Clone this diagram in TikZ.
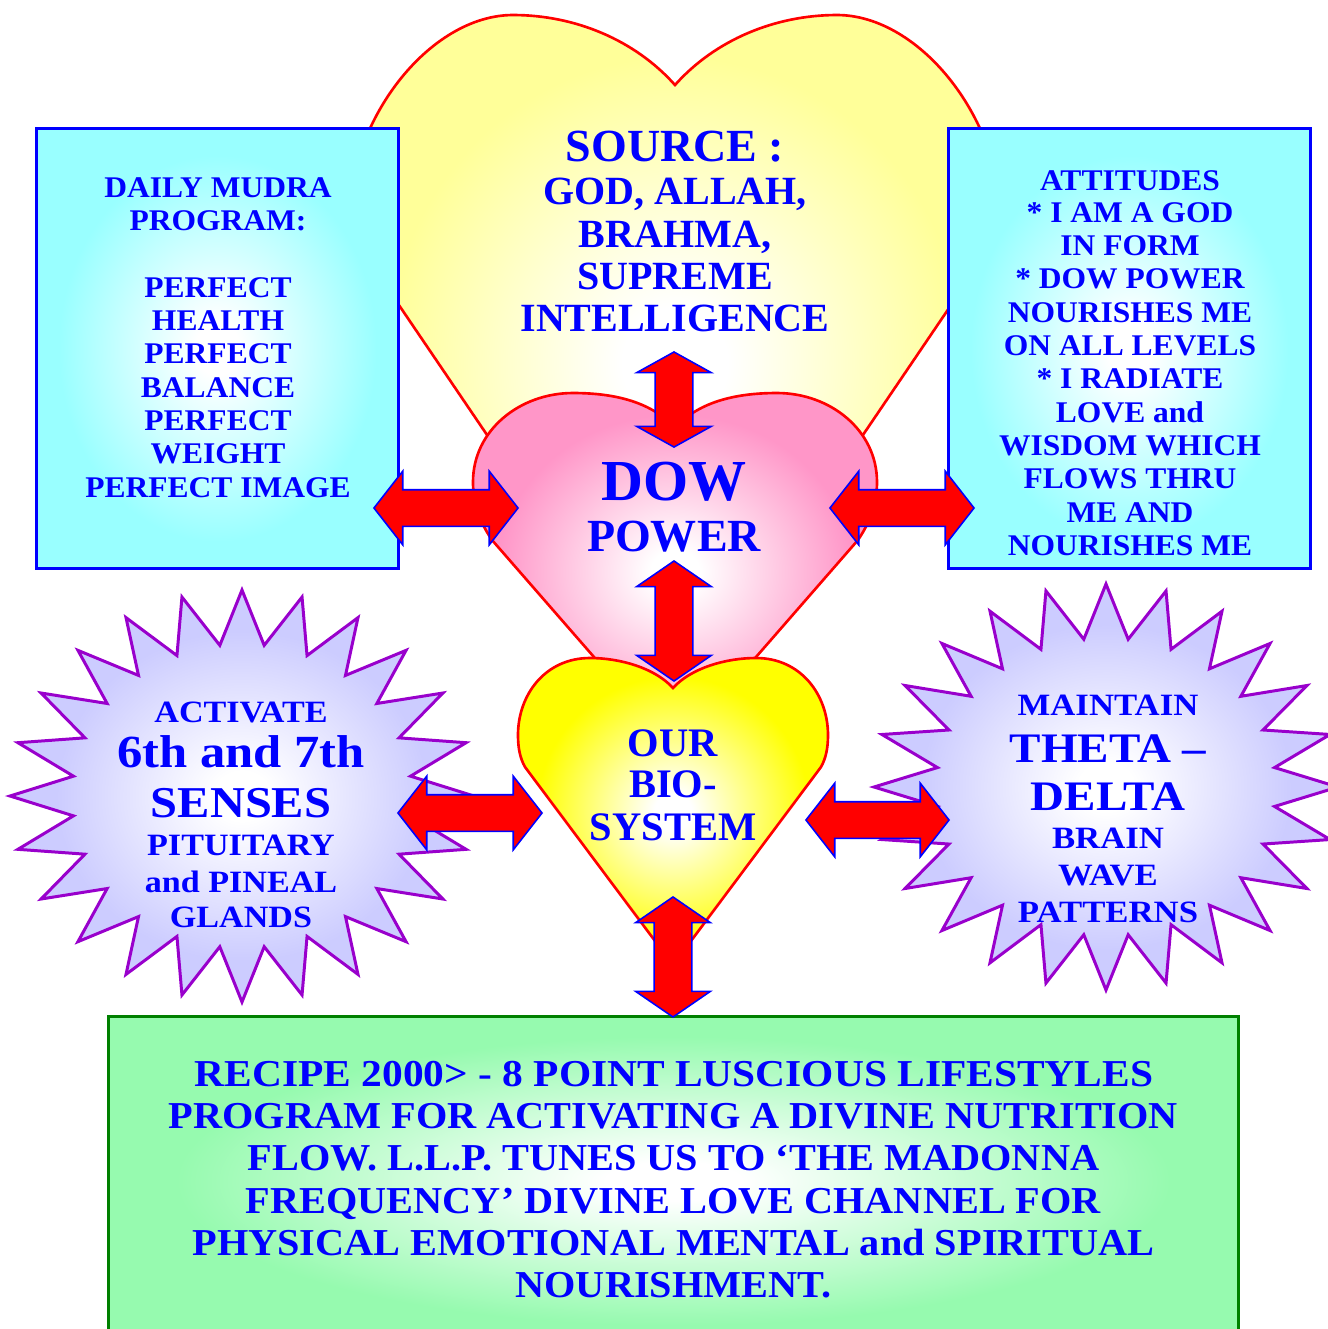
\documentclass[tikz,border=0pt]{standalone}
\usepackage{fontspec}
\setmainfont{Liberation Serif}
\newfontfamily\TBold{Liberation Serif Bold}
\newfontfamily\TBoldA{Liberation Serif Bold}[FakeStretch=1.05]
\newfontfamily\TBoldB{Liberation Serif Bold}[FakeStretch=1.10]
\newfontfamily\TBoldC{Liberation Serif Bold}[FakeStretch=1.12]
\newfontfamily\TBoldD{Liberation Serif Bold}[FakeStretch=1.06]
\newfontfamily\TBoldE{Liberation Serif Bold}[FakeStretch=1.09]
\usetikzlibrary{shapes.arrows}

\definecolor{txtblue}{RGB}{0,0,255}
\definecolor{hy}{RGB}{255,255,153}
\definecolor{hp}{RGB}{255,150,200}
\definecolor{hs}{RGB}{255,255,0}
\definecolor{boxc}{RGB}{153,255,255}
\definecolor{greenf}{RGB}{150,250,175}
\definecolor{starf}{RGB}{204,204,255}
\definecolor{starb}{RGB}{153,0,204}
\definecolor{boxgreen}{RGB}{0,128,0}

\pgfdeclareradialshading{glowYa}{\pgfpoint{0bp}{0bp}}{color(0bp)=(white); color(4bp)=(white); color(22bp)=(hy); color(50bp)=(hy)}
\pgfdeclareradialshading{glowP}{\pgfpoint{0bp}{0bp}}{color(0bp)=(white); color(3bp)=(white); color(22bp)=(hp); color(50bp)=(hp)}
\pgfdeclareradialshading{glowYb}{\pgfpoint{0bp}{0bp}}{color(0bp)=(white); color(3bp)=(white); color(22bp)=(hs); color(50bp)=(hs)}
\pgfdeclareradialshading{glowC}{\pgfpoint{0bp}{0bp}}{color(0bp)=(white); color(3bp)=(white); color(22bp)=(boxc); color(50bp)=(boxc)}
\pgfdeclareradialshading{glowG}{\pgfpoint{0bp}{0bp}}{color(0bp)=(white); color(3bp)=(white); color(22bp)=(greenf); color(50bp)=(greenf)}
\pgfdeclareradialshading{glowS}{\pgfpoint{0bp}{0bp}}{color(0bp)=(white); color(3bp)=(white); color(20bp)=(starf); color(50bp)=(starf)}

\newcommand\FSrc{\TBold\fontsize{13.09pt}{15pt}\selectfont}
\newcommand\FGod{\TBold\fontsize{11.38pt}{13pt}\selectfont}
\newcommand\FDow{\TBold\fontsize{16.5pt}{19pt}\selectfont}
\newcommand\FPow{\TBold\fontsize{13.09pt}{15pt}\selectfont}
\newcommand\FBio{\TBold\fontsize{11.52pt}{13pt}\selectfont}
\newcommand\FBox{\TBoldA\fontsize{8.54pt}{10pt}\selectfont}
\newcommand\FLsS{\TBoldB\fontsize{8.82pt}{10pt}\selectfont}
\newcommand\FLsB{\TBoldB\fontsize{13.09pt}{15pt}\selectfont}
\newcommand\FLsM{\TBoldB\fontsize{12.52pt}{15pt}\selectfont}
\newcommand\FRsS{\TBoldC\fontsize{8.82pt}{10pt}\selectfont}
\newcommand\FRsB{\TBoldC\fontsize{11.95pt}{14pt}\selectfont}
\newcommand\FBot{\TBoldD\fontsize{10.81pt}{13pt}\selectfont}
\newcommand\FBotW{\TBoldE\fontsize{10.81pt}{13pt}\selectfont}

\newcommand\TL[4]{\node[txt,font=#3] (#1) at (#2) {#4};}

\tikzset{
  txt/.style={text=txtblue, inner sep=0pt, anchor=base},
  heartline/.style={draw=red, line width=0.75pt, line join=miter},
  sidebox/.style={draw=blue, line width=0.85pt, shade, shading=glowC, inner sep=0pt, outer sep=0pt, minimum width=3.61cm, minimum height=4.39cm},
  starshape/.style={draw=starb, line width=0.85pt, shade, shading=glowS, line join=miter},
  blockarrow/.style={shape=double arrow, draw=blue, fill=red, line width=0.45pt, inner xsep=0pt, minimum width=0pt, outer sep=0pt, double arrow head indent=0pt},
  varrow/.style={blockarrow, rotate=90, inner ysep=0.18cm, double arrow head extend=0.185cm},
  harrow/.style={blockarrow, inner ysep=0.175cm, double arrow head extend=0.185cm, minimum height=1.44cm, double arrow tip angle=104}
}

\begin{document}
\begin{tikzpicture}[x=0.01cm, y=-0.01cm]
\useasboundingbox (0,0) rectangle (1328,1329);

% big yellow heart
\path[heartline, shade, shading=glowYa]
  (675,85) .. controls (635,40) and (575,15) .. (513,15)
  .. controls (430,15) and (346,120) .. (348,230)
  -- (675,712) -- (1002,230)
  .. controls (1004,120) and (920,15) .. (837,15)
  .. controls (775,15) and (715,40) .. (675,85) -- cycle;

% side boxes
\node[sidebox] (lbox) at (217.5,348.5) {};
\node[sidebox] (rbox) at (1129.5,348.5) {};

% pink heart
\path[heartline, shade, shading=glowP]
  (675,428) .. controls (650,400) and (610,393) .. (573,393)
  .. controls (520,393) and (473,430) .. (473,482)
  .. controls (473,505) and (480,522) .. (492,540)
  -- (675,750) -- (858,540)
  .. controls (870,522) and (877,505) .. (877,482)
  .. controls (877,430) and (830,393) .. (777,393)
  .. controls (740,393) and (700,400) .. (675,428) -- cycle;

% small yellow heart
\path[heartline, shade, shading=glowYb]
  (673,688) .. controls (655,668) and (620,658) .. (590,658)
  .. controls (545,658) and (518,695) .. (518,735)
  .. controls (518,748) and (520,758) .. (525,767)
  -- (673,965) -- (821,767)
  .. controls (826,758) and (828,748) .. (828,735)
  .. controls (828,695) and (801,658) .. (756,658)
  .. controls (726,658) and (691,668) .. (673,688) -- cycle;

% stars
\path[starshape] plot[variable=\k, samples at={0,...,47}]
  ({242+(232-62*mod(\k,2))*sin(7.5*\k)}, {796-(206-54*mod(\k,2))*cos(7.5*\k)}) -- cycle;
\path[starshape] plot[variable=\k, samples at={0,...,47}]
  ({1106+(232-62*mod(\k,2))*sin(7.5*\k)}, {787-(203-54*mod(\k,2))*cos(7.5*\k)}) -- cycle;

% bottom box
\node[draw=boxgreen, line width=0.85pt, shade, shading=glowG, inner sep=0pt, outer sep=0pt,
      minimum width=11.29cm, minimum height=3.28cm] (bbox) at (673.5,1181) {};

% arrows
\node[varrow, minimum height=0.95cm, double arrow tip angle=122] (av1) at (674,399.5) {};
\node[varrow, minimum height=1.20cm, double arrow tip angle=111] (av2) at (674,621) {};
\node[varrow, minimum height=1.20cm, double arrow tip angle=111] (av3) at (673,957) {};
\node[harrow] (ah1) at (446,508) {};
\node[harrow] (ah2) at (902,508) {};
\node[harrow] (ah3) at (470,813) {};
\node[harrow, minimum height=1.43cm] (ah4) at (877.5,820) {};

% texts: source heart
\TL{src1}{675,161}{\FSrc}{SOURCE :}
\TL{src2}{675,204}{\FGod}{GOD, ALLAH,}
\TL{src3}{675,247}{\FGod}{BRAHMA,}
\TL{src4}{675,289}{\FGod}{SUPREME}
\TL{src5}{675,331}{\FGod}{INTELLIGENCE}

\TL{dow1}{674,500}{\FDow}{DOW}
\TL{dow2}{674,551}{\FPow}{POWER}

\TL{bio1}{673,756}{\FBio}{OUR}
\TL{bio2}{673,797}{\FBio}{BIO-}
\TL{bio3}{673,840}{\FBio}{SYSTEM}

% left box
\TL{lb1}{218,197}{\FBox}{DAILY MUDRA}
\TL{lb2}{218,230}{\FBox}{PROGRAM:}
\TL{lb3}{218,297}{\FBox}{PERFECT}
\TL{lb4}{218,330}{\FBox}{HEALTH}
\TL{lb5}{218,363}{\FBox}{PERFECT}
\TL{lb6}{218,397}{\FBox}{BALANCE}
\TL{lb7}{218,430}{\FBox}{PERFECT}
\TL{lb8}{218,463}{\FBox}{WEIGHT}
\TL{lb9}{218,497}{\FBox}{PERFECT IMAGE}

% right box
\TL{rb1}{1130,190}{\FBox}{ATTITUDES}
\TL{rb2}{1130,222}{\FBox}{* I AM A GOD}
\TL{rb3}{1130,255}{\FBox}{IN FORM}
\TL{rb4}{1130,288}{\FBox}{* DOW POWER}
\TL{rb5}{1130,322}{\FBox}{NOURISHES ME}
\TL{rb6}{1130,355}{\FBox}{ON ALL LEVELS}
\TL{rb7}{1130,388}{\FBox}{* I RADIATE}
\TL{rb8}{1130,422}{\FBox}{LOVE and}
\TL{rb9}{1130,455}{\FBox}{WISDOM WHICH}
\TL{rb10}{1130,488}{\FBox}{FLOWS THRU}
\TL{rb11}{1130,522}{\FBox}{ME AND}
\TL{rb12}{1130,555}{\FBox}{NOURISHES ME}

% left star
\TL{ls1}{241,722}{\FLsS}{ACTIVATE}
\TL{ls2}{241,767}{\FLsB}{6th and 7th}
\TL{ls3}{241,817}{\FLsM}{SENSES}
\TL{ls4}{241,855}{\FLsS}{PITUITARY}
\TL{ls5}{241,892}{\FLsS}{and PINEAL}
\TL{ls6}{241,927}{\FLsS}{GLANDS}

% right star
\TL{rs1}{1108,715}{\FRsS}{MAINTAIN}
\TL{rs2}{1108,762}{\FRsB}{THETA –}
\TL{rs3}{1108,810}{\FRsB}{DELTA}
\TL{rs4}{1108,848}{\FRsS}{BRAIN}
\TL{rs5}{1108,885}{\FRsS}{WAVE}
\TL{rs6}{1108,922}{\FRsS}{PATTERNS}

% bottom box
\TL{bt1}{674,1086}{\FBotW}{RECIPE 2000> - 8 POINT LUSCIOUS LIFESTYLES}
\TL{bt2}{673.5,1128}{\FBot}{PROGRAM FOR ACTIVATING A DIVINE NUTRITION}
\TL{bt3}{673.5,1170}{\FBot}{FLOW. L.L.P. TUNES US TO ‘THE MADONNA}
\TL{bt4}{673.5,1213}{\FBot}{FREQUENCY’ DIVINE LOVE CHANNEL FOR}
\TL{bt5}{673.5,1255}{\FBot}{PHYSICAL EMOTIONAL MENTAL and SPIRITUAL}
\TL{bt6}{673.5,1297}{\FBot}{NOURISHMENT.}
\end{tikzpicture}
\end{document}
